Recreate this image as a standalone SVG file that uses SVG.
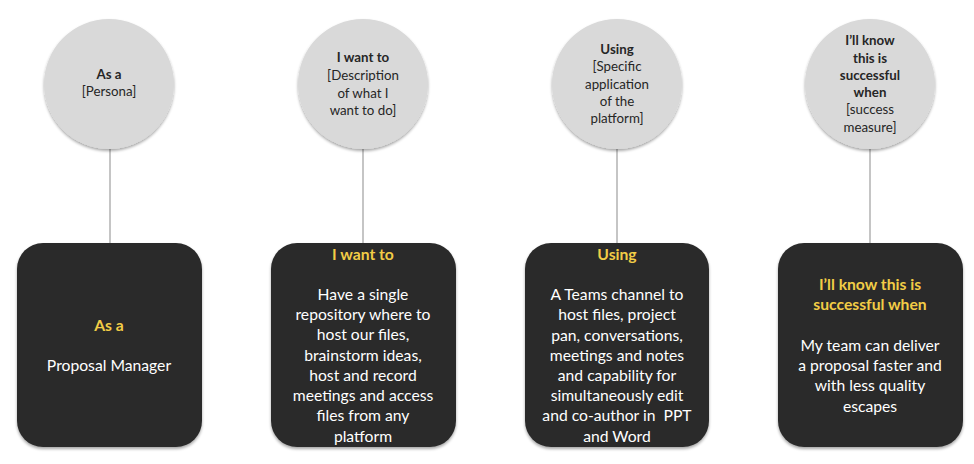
<svg xmlns="http://www.w3.org/2000/svg" width="974" height="464" viewBox="0 0 974 464">
<defs>
<filter id="sh" x="-20%" y="-20%" width="140%" height="140%">
<feGaussianBlur in="SourceAlpha" stdDeviation="1.5"/>
<feOffset dx="0" dy="2" result="b"/>
<feComponentTransfer><feFuncA type="linear" slope="0.35"/></feComponentTransfer>
<feMerge><feMergeNode/><feMergeNode in="SourceGraphic"/></feMerge>
</filter>
</defs>
<style>
.c{fill:#d9d9d9;filter:url(#sh)}
.b{fill:#2b2b2b;filter:url(#sh)}
.ct{font-family:Lato,"Liberation Sans",sans-serif;font-size:13.3px;fill:#262626;text-anchor:middle}
.bt{font-family:Lato,"Liberation Sans",sans-serif;font-size:15.7px;fill:#ffffff;text-anchor:middle;white-space:pre}
.h{font-weight:bold}
.y{font-weight:bold;fill:#f2cd46}
.ln{stroke:#a6a6a6;stroke-width:1.3;fill:none}
</style>
<g id="connectors">
<line class="ln" x1="110" y1="149" x2="110" y2="244"/>
<line class="ln" x1="363" y1="149" x2="363" y2="244"/>
<line class="ln" x1="617" y1="149" x2="617" y2="244"/>
<line class="ln" x1="870" y1="149" x2="870" y2="244"/>
</g>
<g id="circle1">
<circle class="c" cx="109" cy="84" r="65"/>
<text class="ct h" x="109" y="79">As a</text>
<text class="ct" x="109" y="96">[Persona]</text>
</g>
<g id="circle2">
<circle class="c" cx="363" cy="84" r="65"/>
<text class="ct h" x="363" y="62">I want to</text>
<text class="ct" x="363" y="80">[Description</text>
<text class="ct" x="363" y="98">of what I</text>
<text class="ct" x="363" y="115">want to do]</text>
</g>
<g id="circle3">
<circle class="c" cx="617" cy="84" r="65"/>
<text class="ct h" x="617" y="54">Using</text>
<text class="ct" x="617" y="71">[Specific</text>
<text class="ct" x="617" y="89">application</text>
<text class="ct" x="617" y="106">of the</text>
<text class="ct" x="617" y="123">platform]</text>
</g>
<g id="circle4">
<circle class="c" cx="870" cy="84" r="65"/>
<text class="ct h" x="870" y="45">I’ll know</text>
<text class="ct h" x="870" y="63">this is</text>
<text class="ct h" x="870" y="80">successful</text>
<text class="ct h" x="870" y="97">when</text>
<text class="ct" x="870" y="114">[success</text>
<text class="ct" x="870" y="132">measure]</text>
</g>
<g id="box1">
<rect class="b" x="17" y="243" width="185" height="204" rx="26"/>
<text class="bt y" x="109" y="331">As a</text>
<text class="bt" x="109" y="371">Proposal Manager</text>
</g>
<g id="box2">
<rect class="b" x="271" y="243" width="185" height="204" rx="26"/>
<text class="bt y" x="363" y="260">I want to</text>
<text class="bt" x="363" y="300">Have a single</text>
<text class="bt" x="363" y="320">repository where to</text>
<text class="bt" x="363" y="340">host our files,</text>
<text class="bt" x="363" y="361">brainstorm ideas,</text>
<text class="bt" x="363" y="381">host and record</text>
<text class="bt" x="363" y="401">meetings and access</text>
<text class="bt" x="363" y="421">files from any</text>
<text class="bt" x="363" y="442">platform</text>
</g>
<g id="box3">
<rect class="b" x="525" y="243" width="184" height="204" rx="26"/>
<text class="bt y" x="617" y="260">Using</text>
<text class="bt" x="617" y="300">A Teams channel to</text>
<text class="bt" x="617" y="320">host files, project</text>
<text class="bt" x="617" y="341">pan, conversations,</text>
<text class="bt" x="617" y="361">meetings and notes</text>
<text class="bt" x="617" y="381">and capability for</text>
<text class="bt" x="617" y="401">simultaneously edit</text>
<text class="bt" x="617" y="421">and co-author in  PPT</text>
<text class="bt" x="617" y="442">and Word</text>
</g>
<g id="box4">
<rect class="b" x="778" y="243" width="185" height="204" rx="26"/>
<text class="bt y" x="870" y="290">I’ll know this is</text>
<text class="bt y" x="870" y="310">successful when</text>
<text class="bt" x="870" y="351">My team can deliver</text>
<text class="bt" x="870" y="371">a proposal faster and</text>
<text class="bt" x="870" y="391">with less quality</text>
<text class="bt" x="870" y="412">escapes</text>
</g>
</svg>
